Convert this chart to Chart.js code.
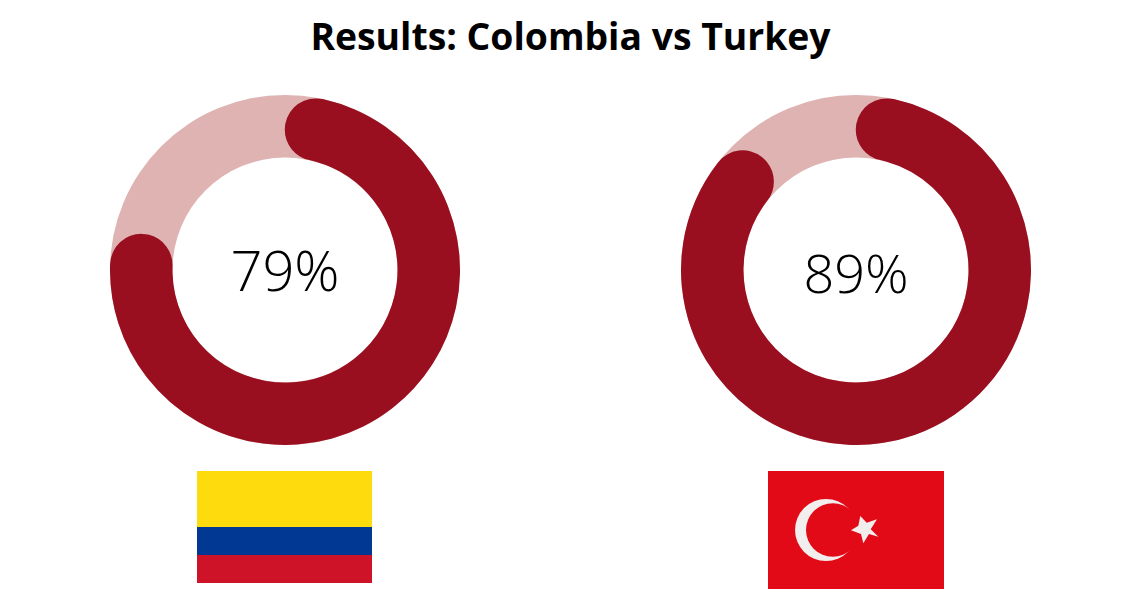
<!DOCTYPE html>
<html>
<head>
<meta charset="utf-8">
<title>Results: Colombia vs Turkey</title>
<script src="https://cdn.jsdelivr.net/npm/chart.js@4"></script>
<style>
  html, body { margin: 0; padding: 0; background: #fff; }
  #page { position: relative; width: 1140px; height: 600px; overflow: hidden; font-family: "Open Sans", sans-serif; color: #000; }
  h1 { position: absolute; left: 0; top: 11px; width: 1141px; margin: 0; text-align: center; font-size: 37.3px; line-height: 50px; font-weight: 700; }
  .ring { position: absolute; top: 95px; width: 350px; height: 350px; }
  .pct { position: absolute; top: 0; left: 0; width: 350px; text-align: center; font-weight: 300; }
  .flag { position: absolute; top: 471px; }
</style>
</head>
<body>
<div id="page">
  <h1>Results: Colombia vs Turkey</h1>

  <div class="ring" style="left:110px">
    <canvas id="colombia" width="350" height="350"></canvas>
    <div class="pct" style="font-size:56px;line-height:80px;top:134px">79%</div>
  </div>
  <div class="ring" style="left:681px">
    <canvas id="turkey" width="350" height="350"></canvas>
    <div class="pct" style="font-size:54px;line-height:70px;top:142px">89%</div>
  </div>

  <svg class="flag" style="left:197px" width="175" height="112">
    <rect width="175" height="56" fill="#fedb0c"/>
    <rect y="56" width="175" height="28" fill="#003893"/>
    <rect y="84" width="175" height="28" fill="#ce1228"/>
  </svg>

  <svg class="flag" style="left:768px" width="176" height="118">
    <rect width="176" height="118" fill="#e30a17"/>
    <circle cx="58" cy="59" r="31" fill="#f3eeee"/>
    <circle cx="64.8" cy="59" r="26.8" fill="#e30a17"/>
    <polygon fill="#f3eeee" points="83,59.3 90.3,54.7 92.3,45 98.7,51.7 109,48.3 102.7,58.3 110.3,65.7 101,63 95.3,72.3 93,63"/>
  </svg>
</div>

<script>
const categories = ['Colombia', 'Turkey']
const scores = [79, 89]
const remainders = [21, 11]

const DARK = '#990f20'
const LIGHT = '#dfb3b1'

// full light ring behind the value arc, so it shows around the rounded ends
const trackPlugin = {
  id: 'track',
  beforeDatasetsDraw(chart) {
    const arc = chart.getDatasetMeta(0).data[0]
    const { ctx } = chart
    ctx.save()
    ctx.fillStyle = LIGHT
    ctx.beginPath()
    ctx.arc(arc.x, arc.y, arc.outerRadius, 0, Math.PI * 2)
    ctx.arc(arc.x, arc.y, arc.innerRadius, Math.PI * 2, 0, true)
    ctx.fill()
    ctx.restore()
  }
}

const ids = ['colombia', 'turkey']
ids.forEach((id, i) => {
  new Chart(document.getElementById(id), {
    type: 'doughnut',
    plugins: [trackPlugin],
    data: {
      labels: [categories[i], 'Rest'],
      datasets: [{
        data: [scores[i], remainders[i]],
        backgroundColor: [DARK, 'rgba(0,0,0,0)'],
        borderWidth: 0,
        borderRadius: [32, 0]
      }]
    },
    options: {
      responsive: false,
      animation: false,
      cutout: '64.3%',
      plugins: {
        legend: { display: false },
        tooltip: { enabled: false }
      }
    }
  })
})
</script>
</body>
</html>
